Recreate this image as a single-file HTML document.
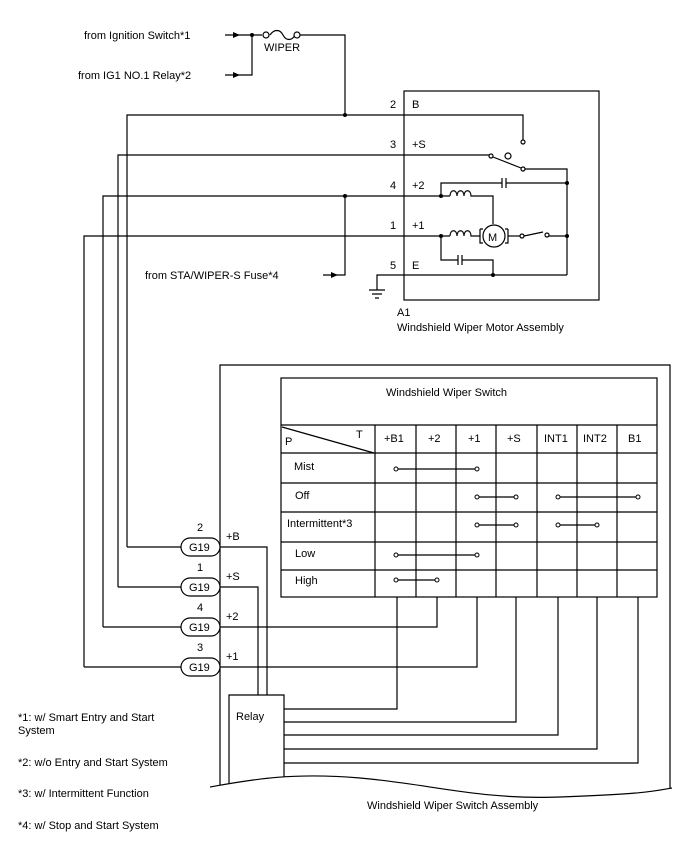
<!DOCTYPE html>
<html><head><meta charset="utf-8"><style>
body{margin:0;background:#fff}
svg{display:block}
text{font-family:"Liberation Sans",Arial,sans-serif;font-size:11px;fill:#000}
</style></head><body>
<svg width="688" height="852" viewBox="0 0 688 852" xmlns="http://www.w3.org/2000/svg">
<g stroke="#000" stroke-width="1.2" fill="none">
<path d="M225 35 H262 M270 35 c4 -6 10 -6 13 0 c3 6 9 6 12 0 M300 35 H345 V115"/>
<circle cx="266" cy="35" r="3" fill="#fff"/><circle cx="297" cy="35" r="3" fill="#fff"/>
<path d="M225 75 H252 V35"/>
<path d="M127 547 V115 H523 V140"/>
<circle cx="523" cy="142" r="2" fill="#fff"/>
<path d="M118 587 V155 H489"/>
<circle cx="491" cy="156" r="2" fill="#fff"/>
<path d="M493 157 L521 168"/>
<circle cx="523" cy="169" r="2" fill="#fff"/>
<circle cx="508" cy="156" r="3"/>
<path d="M525 169 H567 V275"/>
<path d="M103 627 V196 H450"/>
<path d="M345 196 V275 H323"/>
<path d="M441 196 V183 H502 M506 183 H567"/>
<path d="M502 178 V188 M506 178 V188"/>
<path d="M450 196 c0 -7 7 -7 7 0 c0 -7 7 -7 7 0 c0 -7 7 -7 7 0 H493 V224"/>
<path d="M84 667 V236 H450"/>
<path d="M450 236 c0 -7 7 -7 7 0 c0 -7 7 -7 7 0 c0 -7 7 -7 7 0 H480"/>
<circle cx="494" cy="236" r="11"/>
<path d="M480 229 V243 H483 M480 229 H483 M508 229 V243 H505 M508 229 H505"/>
<path d="M508 236 H520"/>
<circle cx="522" cy="236" r="2" fill="#fff"/>
<path d="M524 236 L543 232"/>
<circle cx="547" cy="235" r="2" fill="#fff"/>
<path d="M549 236 H567"/>
<path d="M441 236 V260 H458 M462 260 H493 V275"/>
<path d="M458 255 V265 M462 255 V265"/>
<path d="M567 275 H377 V290 M369 290 H385 M372 294 H382 M375 298 H379"/>
<rect x="404" y="91" width="195" height="209"/>
<path d="M220 785 V365 H670 V788"/>
<path d="M210 787 C 250 780, 290 772, 360 778 S 480 800, 560 797 S 650 792, 672 788"/>
<rect x="281" y="378" width="376" height="219"/>
<path d="M281 425 H657 M281 453 H657 M281 483 H657 M281 512 H657 M281 542 H657 M281 570 H657"/>
<path d="M375 425 V597 M416 425 V597 M456 425 V597 M496 425 V597 M537 425 V597 M577 425 V597 M617 425 V597"/>
<path d="M282 427 L374 453"/>
<path d="M396 469 H477 M477 497 H516 M558 497 H638 M477 525 H516 M558 525 H597 M396 555 H477 M396 580 H437"/>
<path d="M229 783 V695 H284 V777"/>
<path d="M284 709 H397 V597 M284 722 H516 V597 M284 735 H558 V597 M284 749 H597 V597 M284 763 H638 V597"/>
<path d="M220 627 H437 V597 M220 667 H477 V597"/>
<path d="M220 547 H267 V695 M220 587 H258 V695"/>
<path d="M127 547 H181 M118 587 H181 M103 627 H181 M84 667 H181"/>
</g>
<g fill="#fff" stroke="#000" stroke-width="1.2">
<rect x="181" y="538" width="39" height="18" rx="9"/>
<rect x="181" y="578" width="39" height="18" rx="9"/>
<rect x="181" y="618" width="39" height="18" rx="9"/>
<rect x="181" y="658" width="39" height="18" rx="9"/>
</g>
<g fill="#000">
<circle cx="252" cy="35" r="2"/><circle cx="345" cy="115" r="2"/><circle cx="345" cy="196" r="2"/>
<circle cx="441" cy="196" r="2"/><circle cx="441" cy="236" r="2"/><circle cx="567" cy="183" r="2"/>
<circle cx="567" cy="236" r="2"/><circle cx="493" cy="275" r="2"/>
<path d="M233 32 L240 35 L233 38Z M233 72 L240 75 L233 78Z M331 272 L338 275 L331 278Z"/>
</g>
<g fill="#fff" stroke="#000" stroke-width="1">
<circle cx="396" cy="469" r="2"/><circle cx="477" cy="469" r="2"/>
<circle cx="477" cy="497" r="2"/><circle cx="516" cy="497" r="2"/><circle cx="558" cy="497" r="2"/><circle cx="638" cy="497" r="2"/>
<circle cx="477" cy="525" r="2"/><circle cx="516" cy="525" r="2"/><circle cx="558" cy="525" r="2"/><circle cx="597" cy="525" r="2"/>
<circle cx="396" cy="555" r="2"/><circle cx="477" cy="555" r="2"/>
<circle cx="396" cy="580" r="2"/><circle cx="437" cy="580" r="2"/>
</g>
<text x="84" y="39">from Ignition Switch*1</text>
<text x="78" y="79">from IG1 NO.1 Relay*2</text>
<text x="264" y="51">WIPER</text>
<text x="145" y="279">from STA/WIPER-S Fuse*4</text>
<text x="390" y="108">2</text><text x="412" y="108">B</text>
<text x="390" y="148">3</text><text x="412" y="148">+S</text>
<text x="390" y="189">4</text><text x="412" y="189">+2</text>
<text x="390" y="229">1</text><text x="412" y="229">+1</text>
<text x="390" y="269">5</text><text x="412" y="269">E</text>
<text x="488" y="241" font-size="12">M</text>
<text x="397" y="316">A1</text>
<text x="397" y="331">Windshield Wiper Motor Assembly</text>
<text x="386" y="396">Windshield Wiper Switch</text>
<text x="285" y="445">P</text><text x="356" y="438">T</text>
<text x="384" y="442">+B1</text><text x="428" y="442">+2</text><text x="468" y="442">+1</text>
<text x="507" y="442">+S</text><text x="544" y="442">INT1</text><text x="583" y="442">INT2</text><text x="628" y="442">B1</text>
<text x="294" y="470">Mist</text><text x="295" y="499">Off</text><text x="287" y="527">Intermittent*3</text>
<text x="295" y="557">Low</text><text x="295" y="584">High</text>
<text x="197" y="531">2</text><text x="197" y="571">1</text><text x="197" y="611">4</text><text x="197" y="651">3</text>
<text x="189" y="551">G19</text><text x="189" y="591">G19</text><text x="189" y="631">G19</text><text x="189" y="671">G19</text>
<text x="226" y="540">+B</text><text x="226" y="580">+S</text><text x="226" y="620">+2</text><text x="226" y="660">+1</text>
<text x="236" y="720">Relay</text>
<text x="367" y="809">Windshield Wiper Switch Assembly</text>
<text x="18" y="721">*1: w/ Smart Entry and Start</text>
<text x="18" y="734">System</text>
<text x="18" y="766">*2: w/o Entry and Start System</text>
<text x="18" y="797">*3: w/ Intermittent Function</text>
<text x="18" y="829">*4: w/ Stop and Start System</text>
</svg>
</body></html>
